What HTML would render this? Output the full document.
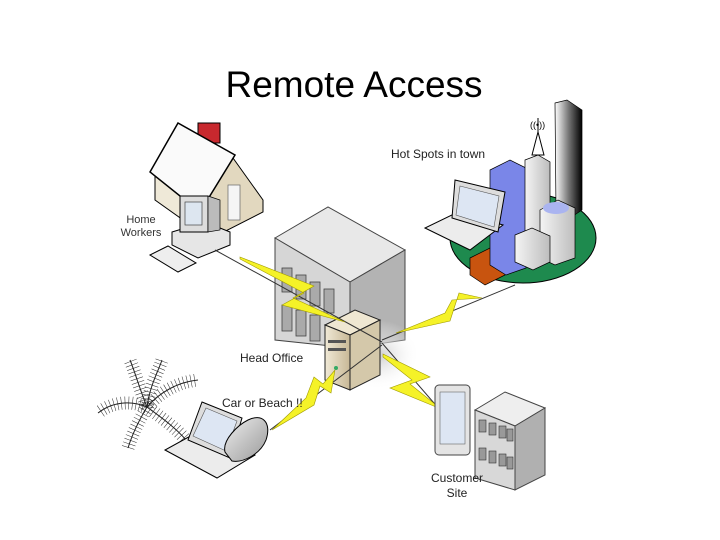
<!DOCTYPE html>
<html><head><meta charset="utf-8"><style>
body{margin:0;background:#fff;width:720px;height:540px;overflow:hidden}
svg{display:block}
text{font-family:"Liberation Sans",sans-serif}
</style></head><body>
<svg width="720" height="540" viewBox="0 0 720 540" xmlns="http://www.w3.org/2000/svg">
<defs>
<linearGradient id="gw" x1="0" x2="1"><stop offset="0" stop-color="#f4f4f4"/><stop offset="1" stop-color="#bdbdbd"/></linearGradient>
<linearGradient id="gb" x1="0" x2="1"><stop offset="0" stop-color="#f0e9d6"/><stop offset="1" stop-color="#c8b896"/></linearGradient>
<linearGradient id="gk" x1="0" x2="1"><stop offset="0" stop-color="#fff"/><stop offset="0.5" stop-color="#777"/><stop offset="1" stop-color="#000"/></linearGradient>
<radialGradient id="sh"><stop offset="0" stop-color="#ccc"/><stop offset="1" stop-color="#fff" stop-opacity="0"/></radialGradient>
<linearGradient id="gp" x1="0" x2="1" y1="0" y2="1"><stop offset="0" stop-color="#eee"/><stop offset="1" stop-color="#999"/></linearGradient>
</defs>
<text x="354" y="97" font-size="37" text-anchor="middle" fill="#000">Remote Access</text>

<!-- house -->
<rect x="198" y="123" width="22" height="20" fill="#c8282e" stroke="#000" stroke-width="1"/>
<polygon points="155,175 200,212 200,232 155,200" fill="#efe9d8" stroke="#000"/>
<polygon points="200,212 233,158 263,200 263,212 212,238 200,232" fill="#e2d8bf" stroke="#000"/>
<polygon points="150,172 178,123 235,155 200,212" fill="#fafafa" stroke="#000" stroke-width="1.5"/>
<rect x="228" y="185" width="12" height="35" fill="#f5f5f5" stroke="#666" stroke-width="0.7"/>
<!-- PC -->
<polygon points="172,232 205,222 230,232 230,245 198,258 172,245" fill="#e6e6e6" stroke="#000"/>
<rect x="180" y="196" width="28" height="36" fill="#ddd" stroke="#000"/>
<rect x="185" y="202" width="17" height="23" fill="#dde6f0" stroke="#444" stroke-width="0.7"/>
<polygon points="208,196 220,200 220,230 208,232" fill="#bbb" stroke="#000" stroke-width="0.7"/>
<polygon points="150,255 168,246 196,263 178,272" fill="#eee" stroke="#000"/>
<text x="141" y="223" font-size="11" text-anchor="middle" fill="#333">Home</text>
<text x="141" y="236" font-size="11" text-anchor="middle" fill="#333">Workers</text>

<!-- hotspot -->
<ellipse cx="523" cy="238" rx="73" ry="45" fill="#1e8a4e" stroke="#000"/>
<polygon points="470,258 490,248 505,250 505,275 485,285 470,275" fill="#c8540f" stroke="#000" stroke-width="0.7"/>
<polygon points="490,170 510,160 526,168 526,268 506,275 490,265" fill="#7a86e8" stroke="#000" stroke-width="0.7"/>
<polygon points="525,160 538,155 550,162 550,250 525,252" fill="url(#gw)" stroke="#000" stroke-width="0.7"/>
<polygon points="532,155 538,132 544,155" fill="#fff" stroke="#000"/>
<line x1="538" y1="118" x2="538" y2="134" stroke="#000"/>
<text x="530" y="128" font-size="9">((•))</text>
<polygon points="555,103 567,100 582,110 582,210 570,218 556,210" fill="url(#gk)" stroke="#000" stroke-width="0.7"/>
<polygon points="540,210 558,200 575,208 575,258 555,265 540,258" fill="url(#gw)" stroke="#000" stroke-width="0.7"/>
<ellipse cx="556" cy="208" rx="13" ry="6" fill="#aab4f0"/>
<polygon points="515,235 532,228 550,236 550,262 533,270 515,262" fill="url(#gw)" stroke="#000" stroke-width="0.7"/>
<polygon points="425,228 470,250 503,225 458,212" fill="#ececec" stroke="#000"/>
<polygon points="455,180 505,192 498,232 452,218" fill="#ddd" stroke="#000"/>
<polygon points="460,186 499,196 494,227 456,215" fill="#dde6f3" stroke="#555" stroke-width="0.6"/>
<text x="391" y="158" font-size="12" fill="#222">Hot Spots in town</text>

<!-- head office -->
<polygon points="275,238 328,207 405,250 350,282" fill="#e8e8e8" stroke="#444"/>
<polygon points="275,238 350,282 350,348 275,340" fill="#d6d6d6" stroke="#444"/>
<polygon points="350,282 405,250 405,340 350,348" fill="#b3b3b3" stroke="#444"/>
<g fill="#aaa" stroke="#444" stroke-width="0.8">
<rect x="282" y="268" width="10" height="24"/><rect x="296" y="275" width="10" height="24"/><rect x="310" y="282" width="10" height="24"/><rect x="324" y="289" width="10" height="24"/>
<rect x="282" y="305" width="10" height="26"/><rect x="296" y="310" width="10" height="26"/><rect x="310" y="315" width="10" height="26"/>
</g>
<ellipse cx="378" cy="355" rx="42" ry="35" fill="url(#sh)"/>
<!-- server -->
<polygon points="325,325 355,310 380,320 350,335" fill="#efe7d2" stroke="#222"/>
<polygon points="325,325 350,335 350,390 325,380" fill="url(#gb)" stroke="#222"/>
<polygon points="350,335 380,320 380,375 350,390" fill="#d4c8aa" stroke="#222"/>
<rect x="328" y="340" width="18" height="3" fill="#555"/>
<rect x="328" y="348" width="18" height="3" fill="#555"/>
<circle cx="336" cy="368" r="2" fill="#3a6"/>
<text x="240" y="362" font-size="12" fill="#222">Head Office</text>

<!-- connector lines -->
<g stroke="#333" stroke-width="1" fill="none">
<line x1="215" y1="250" x2="382" y2="342"/>
<line x1="515" y1="285" x2="382" y2="340"/>
<line x1="270" y1="430" x2="382" y2="345"/>
<line x1="440" y1="410" x2="382" y2="343"/>
</g>
<!-- bolts -->
<g fill="#f5f228" stroke="#a09a00" stroke-width="0.6">
<polygon points="240,257 314,286 293,298 345,322 282,305 304,293 240,259"/>
<polygon points="482,298 459,293 450,321 396,333 445,313 452,300"/>
<polygon points="335,370 331,393 320,386 314,405 272,430 306,398 314,377 323,384"/>
<polygon points="383,354 430,377 410,384 441,409 390,388 412,380 383,357"/>
</g>

<!-- palm -->
<g stroke="#222" fill="none" stroke-linecap="butt">
<g stroke-width="13" stroke-dasharray="0.5 3.2">
<path d="M147 407 C140 390 135 372 130 360"/>
<path d="M147 407 C160 392 178 382 198 380"/>
<path d="M147 407 C130 400 112 402 98 413"/>
<path d="M147 407 C138 422 132 435 128 448"/>
<path d="M147 407 C162 418 176 428 186 440"/>
<path d="M147 407 C150 385 158 372 162 360"/>
</g>
<g stroke-width="1">
<path d="M147 407 C140 390 135 372 130 360"/>
<path d="M147 407 C160 392 178 382 198 380"/>
<path d="M147 407 C130 400 112 402 98 413"/>
<path d="M147 407 C138 422 132 435 128 448"/>
<path d="M147 407 C162 418 176 428 186 440"/>
<path d="M147 407 C150 385 158 372 162 360"/>
</g>
</g>
<!-- beach laptop -->
<polygon points="165,450 217,478 255,455 205,428" fill="#ececec" stroke="#000"/>
<polygon points="202,402 242,418 230,458 188,440" fill="#ddd" stroke="#000"/>
<polygon points="206,408 237,421 226,451 193,436" fill="#dde6f3" stroke="#555" stroke-width="0.6"/>
<path d="M225 452 C222 440 238 425 248 420 C262 413 272 422 266 440 C260 455 242 463 232 461 Z" fill="url(#gp)" stroke="#000"/>
<text x="222" y="407" font-size="12" fill="#222">Car or Beach !!</text>

<!-- customer -->
<rect x="435" y="385" width="35" height="70" rx="4" fill="#e4e4e4" stroke="#444"/>
<rect x="440" y="392" width="25" height="52" fill="#dde6f3" stroke="#666" stroke-width="0.6"/>
<polygon points="475,410 505,392 545,408 515,426" fill="#eee" stroke="#444"/>
<polygon points="475,410 515,426 515,490 475,478" fill="#d8d8d8" stroke="#444"/>
<polygon points="515,426 545,408 545,475 515,490" fill="#b0b0b0" stroke="#444"/>
<g fill="#999" stroke="#333" stroke-width="0.6">
<rect x="479" y="420" width="7" height="12"/><rect x="489" y="423" width="7" height="12"/><rect x="499" y="426" width="7" height="12"/><rect x="507" y="429" width="6" height="12"/>
<rect x="479" y="448" width="7" height="12"/><rect x="489" y="451" width="7" height="12"/><rect x="499" y="454" width="7" height="12"/><rect x="507" y="457" width="6" height="12"/>
</g>
<text x="457" y="482" font-size="12" text-anchor="middle" fill="#222">Customer</text>
<text x="457" y="497" font-size="12" text-anchor="middle" fill="#222">Site</text>
</svg>
</body></html>
